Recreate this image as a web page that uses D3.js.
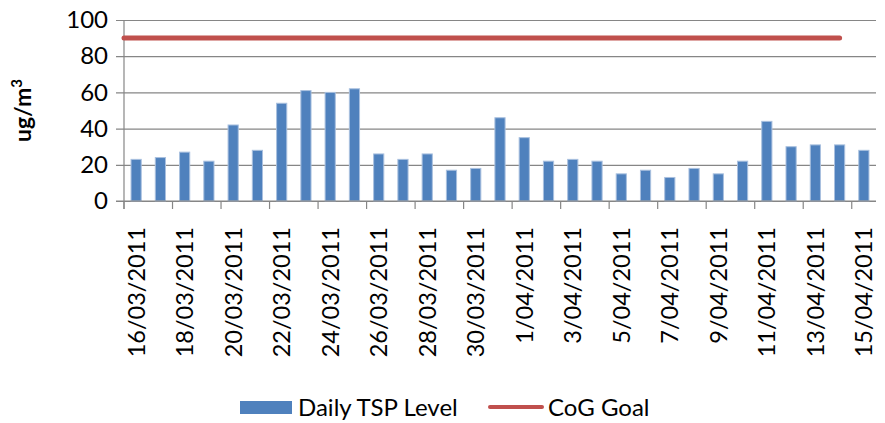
<!DOCTYPE html>
<html>
<head>
    <meta charset="utf-8">
    <title>Daily TSP Level</title>
    <script src="https://cdnjs.cloudflare.com/ajax/libs/d3/7.8.5/d3.min.js"></script>
</head>
<body style="margin:0">
<style>
    svg { display: block; background: #fff; }
    text { font-family: Lato, "Liberation Sans", sans-serif; fill: #000; }
</style>
<script>
    const dates = ["16/03/2011", "17/03/2011", "18/03/2011", "19/03/2011", "20/03/2011", "21/03/2011",
        "22/03/2011", "23/03/2011", "24/03/2011", "25/03/2011", "26/03/2011", "27/03/2011",
        "28/03/2011", "29/03/2011", "30/03/2011", "31/03/2011", "1/04/2011", "2/04/2011",
        "3/04/2011", "4/04/2011", "5/04/2011", "6/04/2011", "7/04/2011", "8/04/2011",
        "9/04/2011", "10/04/2011", "11/04/2011", "12/04/2011", "13/04/2011", "14/04/2011", "15/04/2011"];
    const tsp = [23, 24, 27, 22, 42, 28, 54, 61, 60, 62, 26, 23, 26, 17, 18, 46,
        35, 22, 23, 22, 15, 17, 13, 18, 15, 22, 44, 30, 31, 31, 28];
    // CoG goal, one value per day up to 14/04
    const goal = [90, 90, 90, 90, 90, 90, 90, 90, 90, 90, 90, 90, 90, 90, 90,
        90, 90, 90, 90, 90, 90, 90, 90, 90, 90, 90, 90, 90, 90, 90];
    const yTicks = [0, 20, 40, 60, 80, 100];

    const W = 885, H = 423;
    const m = {left: 124, top: 20, right: 9, bottom: 222};
    const w = W - m.left - m.right, h = H - m.top - m.bottom;

    const svg = d3.select("body").append("svg").attr("width", W).attr("height", H);
    const g = svg.append("g").attr("transform", `translate(${m.left},${m.top})`);

    const x = d3.scaleBand().domain(dates).range([0, w]);
    const y = d3.scaleLinear().domain([0, 100]).range([h, 0]);

    // gridlines + y labels
    const yAxis = g.append("g").call(d3.axisLeft(y).tickValues(yTicks).tickSize(-w).tickPadding(16));
    yAxis.select(".domain").remove();
    yAxis.selectAll(".tick line").attr("x1", -8).attr("stroke", "#868686").attr("stroke-width", 1.2);
    yAxis.selectAll(".tick text").style("font-size", "24px").attr("fill", "#000");
    g.append("line").attr("x1", 0).attr("x2", 0).attr("y1", 0).attr("y2", h + 8)
        .attr("stroke", "#868686").attr("stroke-width", 1.2);

    // x axis, ticks between every second day
    const xAxis = g.append("g").attr("transform", `translate(0,${h})`)
        .call(d3.axisBottom(x).tickValues(dates.filter((d, i) => i % 2 === 0)).tickSize(8).tickPadding(0));
    xAxis.select(".domain").remove();
    xAxis.selectAll(".tick line").attr("x1", -x.step() / 2).attr("x2", -x.step() / 2)
        .attr("stroke", "#868686").attr("stroke-width", 1.2);
    xAxis.selectAll(".tick text")
        .style("font-size", "23.5px")
        .attr("fill", "#000")
        .attr("text-anchor", "end")
        .attr("transform", "rotate(-90)")
        .attr("x", -26).attr("y", 0).attr("dy", "0.36em");

    // bars
    const bw = x.bandwidth() * 0.42;
    g.selectAll("rect.bar").data(tsp).enter().append("rect")
        .attr("class", "bar")
        .attr("x", (d, i) => x(dates[i]) + (x.bandwidth() - bw) / 2)
        .attr("y", d => y(d))
        .attr("width", bw)
        .attr("height", d => h - y(d))
        .attr("fill", "#4F81BD")
        .attr("stroke", "#A9C0DF").attr("stroke-width", 1);

    g.append("line").attr("x1", -8).attr("x2", w).attr("y1", h).attr("y2", h)
        .attr("stroke", "#868686").attr("stroke-width", 1.2);

    // goal line
    const xl = d3.scalePoint().domain(goal.map((d, i) => dates[i]))
        .range([0, x(dates[goal.length - 1]) + x.bandwidth() / 2]);
    g.append("path").datum(goal)
        .attr("d", d3.line().x((d, i) => xl(dates[i])).y(d => y(d)))
        .attr("fill", "none").attr("stroke", "#C0504D").attr("stroke-width", 5)
        .attr("stroke-linecap", "round");

    // y title
    const yt = svg.append("text")
        .attr("transform", `translate(31,${m.top + h / 2}) rotate(-90)`)
        .attr("text-anchor", "middle")
        .style("font-size", "23px").style("font-weight", "bold");
    yt.append("tspan").text("ug/m");
    yt.append("tspan").text("3").attr("dy", -9).style("font-size", "15px");

    // legend
    const lg = svg.append("g").attr("transform", "translate(240,401)");
    lg.append("rect").attr("width", 52).attr("height", 13).attr("fill", "#4F81BD");
    lg.append("text").attr("x", 58).attr("y", 15).style("font-size", "24px").text("Daily TSP Level");
    lg.append("line").attr("x1", 250).attr("x2", 302).attr("y1", 6).attr("y2", 6)
        .attr("stroke", "#C0504D").attr("stroke-width", 4).attr("stroke-linecap", "round");
    lg.append("text").attr("x", 308).attr("y", 15).style("font-size", "24px").text("CoG Goal");
</script>
</body>
</html>
